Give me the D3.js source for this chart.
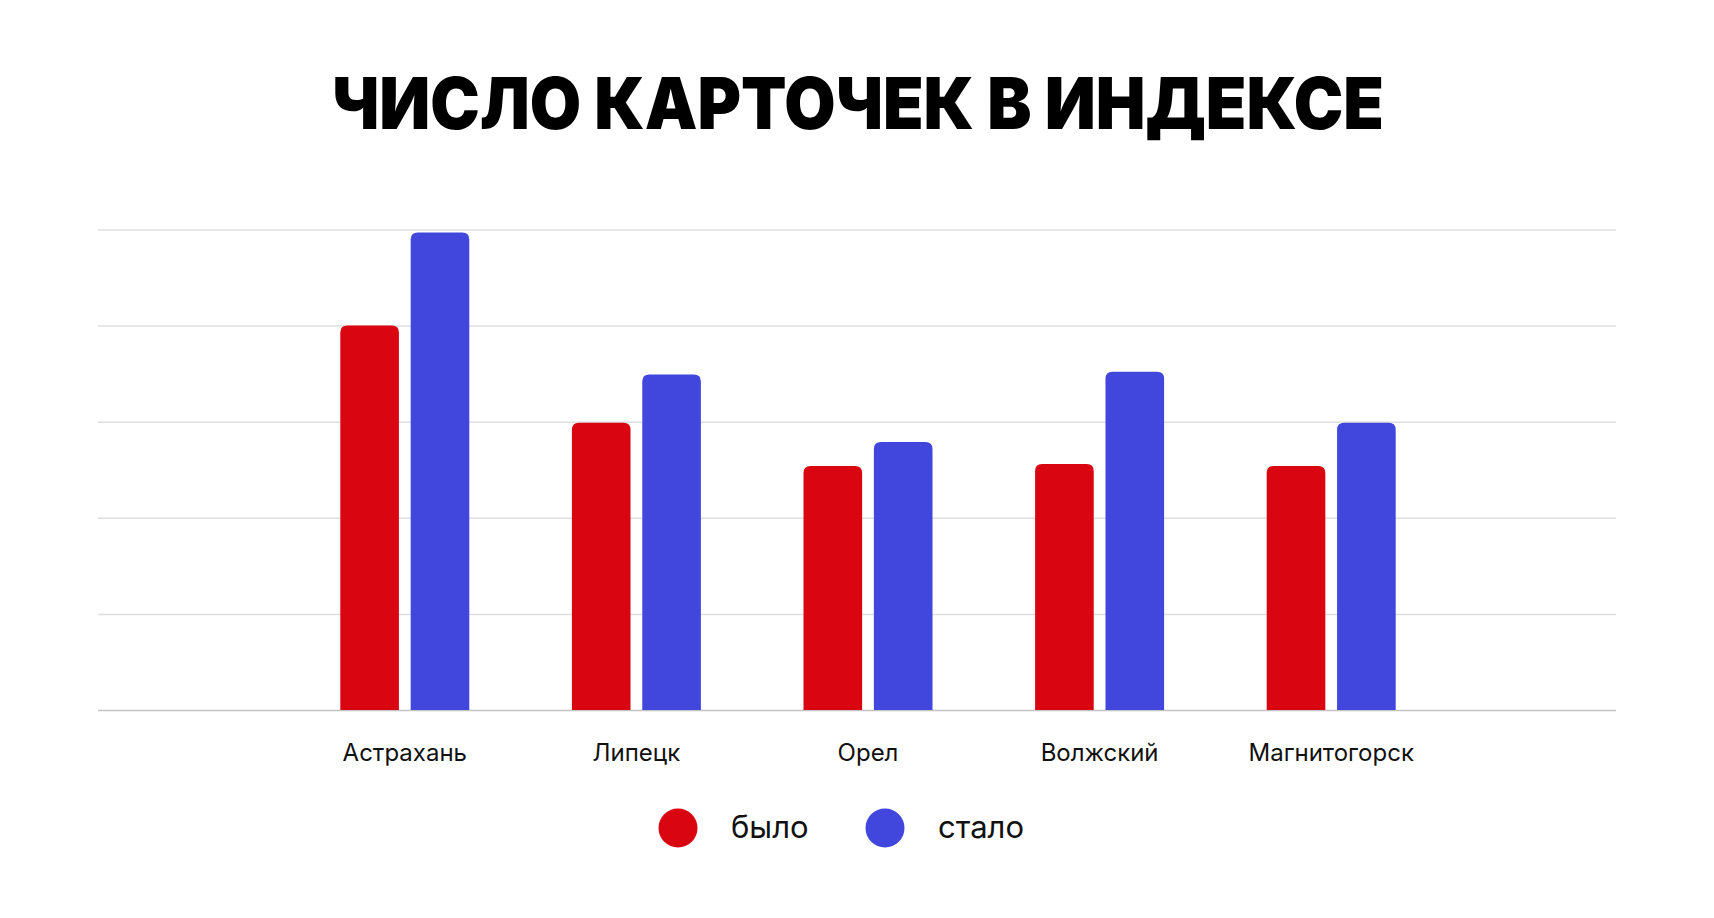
<!DOCTYPE html>
<html>
<head>
<meta charset="utf-8">
<script src="https://cdn.jsdelivr.net/npm/d3@7"></script>
<style>
  html, body { margin: 0; padding: 0; background: #fff; }
  svg { display: block; }
  .title { font-family: Inter, "Noto Sans", sans-serif; font-weight: 900; fill: #000; }
  .cat { font-family: Inter, "Noto Sans", sans-serif; font-size: 24px; fill: #111; }
  .leg { font-family: Inter, "Noto Sans", sans-serif; font-size: 31px; fill: #111; }
</style>
</head>
<body>
<div id="chart"></div>
<script>
const svgWidth = 1714;
const svgHeight = 918;

// data (no y labels in the original, 1 grid step = 100)
const cities = ['Астрахань', 'Липецк', 'Орел', 'Волжский', 'Магнитогорск'];
const series = ['было', 'стало'];
const before = [400, 299, 254, 256, 254];
const after = [497, 349, 279, 352, 299];
const yTicks = [0, 100, 200, 300, 400, 500];
const colors = ['#d90612', '#4147dc'];

let svg = d3.select('#chart')
    .append('svg')
    .attr('width', svgWidth)
    .attr('height', svgHeight)

// title
svg.append('text')
    .attr('class', 'title')
    .attr('x', 858)
    .attr('y', 129)
    .attr('text-anchor', 'middle')
    .attr('font-size', 72)
    .attr('textLength', 1052)
    .attr('lengthAdjust', 'spacingAndGlyphs')
    .text('ЧИСЛО КАРТОЧЕК В ИНДЕКСЕ')

let gridLeft = 98, gridRight = 1616;

let y = d3.scaleLinear()
    .domain([0, 500])
    .range([710, 229.5]);

let x0 = d3.scaleBand()
    .domain(cities)
    .range([289, 1447])
    .paddingInner(0.443)
    .paddingOuter(0.2215);

let x1 = d3.scaleBand()
    .domain(series)
    .range([0, x0.bandwidth()])
    .paddingInner(0.167);

// grid lines
let yAxis = d3.axisLeft(y)
    .tickValues(yTicks)
    .tickSize(-(gridRight - gridLeft))
    .tickFormat('');

let grid = svg.append('g')
    .attr('transform', `translate(${gridLeft},0)`)
    .call(yAxis);
grid.select('.domain').remove();
grid.selectAll('.tick line')
    .attr('stroke', d => d === 0 ? '#c4c4c4' : '#dedede')
    .attr('stroke-width', 1.5);

// rounded-top bar path
function barPath(x, yTop, w, yBase, r) {
    r = Math.min(r, w / 2, yBase - yTop);
    return `M${x},${yBase}V${yTop + r}Q${x},${yTop} ${x + r},${yTop}` +
        `H${x + w - r}Q${x + w},${yTop} ${x + w},${yTop + r}V${yBase}Z`;
}

let rows = cities.map((c, i) => ({ city: c, values: [before[i], after[i]] }));

let groups = svg.append('g').selectAll('g')
    .data(rows)
    .enter()
    .append('g')
    .attr('transform', d => `translate(${x0(d.city)},0)`);

groups.selectAll('path')
    .data(d => d.values.map((v, j) => ({ key: series[j], value: v, j: j })))
    .enter()
    .append('path')
    .attr('fill', d => colors[d.j])
    .attr('d', d => barPath(x1(d.key), y(d.value), x1.bandwidth(), y(0), 7));

// category labels
svg.append('g').selectAll('text')
    .data(cities)
    .enter()
    .append('text')
    .attr('class', 'cat')
    .attr('x', d => x0(d) + x0.bandwidth() / 2)
    .attr('y', 761)
    .attr('text-anchor', 'middle')
    .text(d => d);

// legend
let legendX = [678, 885];
let legend = svg.append('g').selectAll('g')
    .data(series)
    .enter()
    .append('g')
    .attr('transform', (d, i) => `translate(${legendX[i]},828)`);

legend.append('circle')
    .attr('r', 19.5)
    .attr('fill', (d, i) => colors[i]);

legend.append('text')
    .attr('class', 'leg')
    .attr('x', 53)
    .attr('y', 10)
    .text(d => d);
</script>
</body>
</html>
